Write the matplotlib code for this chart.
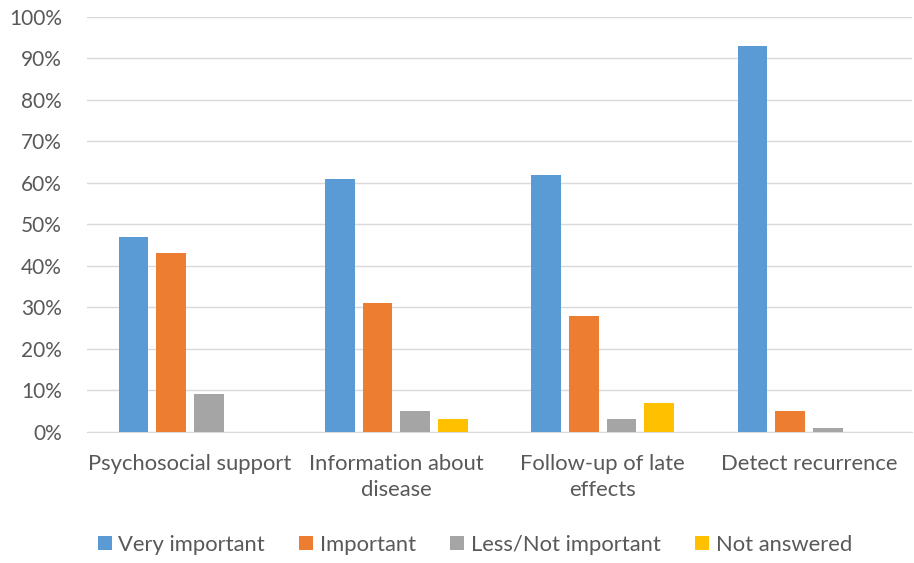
import numpy as np
import matplotlib.pyplot as plt
from matplotlib.ticker import PercentFormatter

plt.rcParams['font.family'] = ['Lato', 'DejaVu Sans']

categories = ['Psychosocial support', 'Information about\ndisease', 'Follow-up of late\neffects', 'Detect recurrence']
series = ['Very important', 'Important', 'Less/Not important', 'Not answered']
very_important = [47, 61, 62, 93]
important = [43, 31, 28, 5]
less_not_important = [9, 5, 3, 1]
not_answered = [0, 3, 7, 0]
colors = ['#5b9bd5', '#ed7d31', '#a5a5a5', '#ffc000']

values = [very_important, important, less_not_important, not_answered]

fig = plt.figure(figsize=(9.14, 5.63), dpi=100)
ax = fig.add_axes([0.095, 0.233, 0.903, 0.737])

x = np.arange(len(categories))
pitch = 0.183
width = 0.144
for i, (name, vals) in enumerate(zip(series, values)):
    ax.bar(x + (i - 1.5) * pitch, vals, width, color=colors[i], label=name, zorder=3)

ax.set_xlim(-0.5, len(categories) - 0.5)
ax.set_ylim(0, 100)
ax.set_yticks(range(0, 101, 10))
ax.yaxis.set_major_formatter(PercentFormatter(decimals=0))
ax.set_xticks(x)
ax.set_xticklabels(categories, linespacing=1.4, fontsize=15.8)
ax.grid(axis='y', color='#d9d9d9', linewidth=1, zorder=0)
for s in ['top', 'right', 'left']:
    ax.spines[s].set_visible(False)
ax.spines['bottom'].set_color('#d9d9d9')
ax.tick_params(axis='both', length=0, colors='#595959')
ax.tick_params(axis='y', labelsize=15, pad=18)
ax.tick_params(axis='x', pad=16)

ax.legend(loc='center', bbox_to_anchor=(0.47, -0.272), ncol=4, frameon=False,
          fontsize=15.8, labelcolor='#595959', handlelength=0.65, handleheight=0.65,
          handletextpad=0.3, columnspacing=1.55)

fig.savefig('out.png', dpi=100)
